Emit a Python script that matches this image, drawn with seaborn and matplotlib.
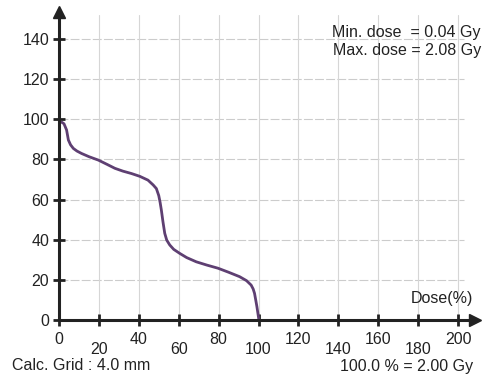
import matplotlib
matplotlib.use("Agg")
import matplotlib.pyplot as plt
import seaborn as sns
import pandas as pd
from matplotlib.ticker import FixedLocator

dose = [0, 1.5, 2.5, 3.8, 4.7, 5.8, 7.2, 9, 11.3, 15, 19.7, 24, 28, 32, 36.3, 40.5, 44.6,
        47.2, 48.8, 50, 50.7, 51.3, 52.1, 53, 54, 55.5, 57.5, 60.5, 64, 68.8, 74, 79.7, 85,
        90.5, 94, 96.3, 97.3, 98, 98.6, 99.2, 100.2]
volume = [98.8, 98.5, 97.8, 94.7, 89.7, 87.3, 85.5, 84.2, 83, 81.4, 79.7, 77.6, 75.6, 74.2,
          73, 71.6, 69.7, 67.3, 65.5, 62, 58.5, 54.8, 49, 43.2, 39.8, 37.4, 35.2, 33.2, 31.1,
          29, 27.4, 25.8, 23.8, 21.6, 19.6, 17.4, 15.5, 13.3, 10, 6.6, 0]

major_x = [0, 40, 80, 120, 160, 200]
minor_x = [20, 60, 100, 140, 180]
y_ticks = [0, 20, 40, 60, 80, 100, 120, 140]

df = pd.DataFrame({"dose": dose, "volume": volume})

sns.set_theme(style="white")
plt.rcParams["font.family"] = ["Liberation Sans", "DejaVu Sans"]

fig = plt.figure(figsize=(4.84, 3.74), dpi=100)
ax = fig.add_axes([59 / 484, 54 / 374, 416 / 484, 308 / 374])

sns.lineplot(data=df, x="dose", y="volume", ax=ax, color="#5e3f72", linewidth=2.0, sort=False)

ax.set_xlim(0, 208.5)
ax.set_ylim(0, 153.5)

for yv in y_ticks[1:]:
    ax.plot([0, 203], [yv, yv], color="#cccccc", lw=0.8, ls=(0, (8, 2)), zorder=0)
for xv in sorted(major_x + minor_x)[1:]:
    ax.plot([xv, xv], [0, 152], color="#d6d6d6", lw=0.8, zorder=0)

ax.xaxis.set_major_locator(FixedLocator(major_x))
ax.xaxis.set_minor_locator(FixedLocator(minor_x))
ax.set_xticklabels([str(v) for v in major_x])
ax.set_xticklabels([str(v) for v in minor_x], minor=True)
ax.yaxis.set_major_locator(FixedLocator(y_ticks))
ax.set_yticklabels([str(v) for v in y_ticks])

ax.tick_params(axis="x", which="major", direction="inout", length=8, width=2, pad=5,
               labelsize=11.5, colors="#222222", bottom=True)
ax.tick_params(axis="x", which="minor", direction="inout", length=8, width=2, pad=11.5,
               labelsize=11.5, colors="#222222", bottom=True)
ax.tick_params(axis="y", which="major", direction="inout", length=8, width=2, pad=3,
               labelsize=11.5, colors="#222222", left=True)

for s in ["top", "right"]:
    ax.spines[s].set_visible(False)
for s in ["left", "bottom"]:
    ax.spines[s].set_color("#222222")
    ax.spines[s].set_linewidth(2.2)

ax.plot(1, 0, marker=">", ms=9, color="#222222", transform=ax.transAxes, clip_on=False)
ax.plot(0, 1, marker="^", ms=9, color="#222222", transform=ax.transAxes, clip_on=False)

ax.set_xlabel("")
ax.set_ylabel("")

fs = 11.5
fig.text(481 / 484, 1 - 33 / 374, "Min. dose  = 0.04 Gy", ha="right", va="center", fontsize=fs, color="#222222")
fig.text(481 / 484, 1 - 50 / 374, "Max. dose = 2.08 Gy", ha="right", va="center", fontsize=fs, color="#222222")
fig.text(473 / 484, 1 - 299 / 374, "Dose(%)", ha="right", va="center", fontsize=fs, color="#222222")
fig.text(12 / 484, 1 - 366 / 374, "Calc. Grid : 4.0 mm", ha="left", va="center", fontsize=fs, color="#222222")
fig.text(473 / 484, 1 - 366 / 374, "100.0 % = 2.00 Gy", ha="right", va="center", fontsize=fs, color="#222222")

fig.savefig("out.png", dpi=100, facecolor="white")
